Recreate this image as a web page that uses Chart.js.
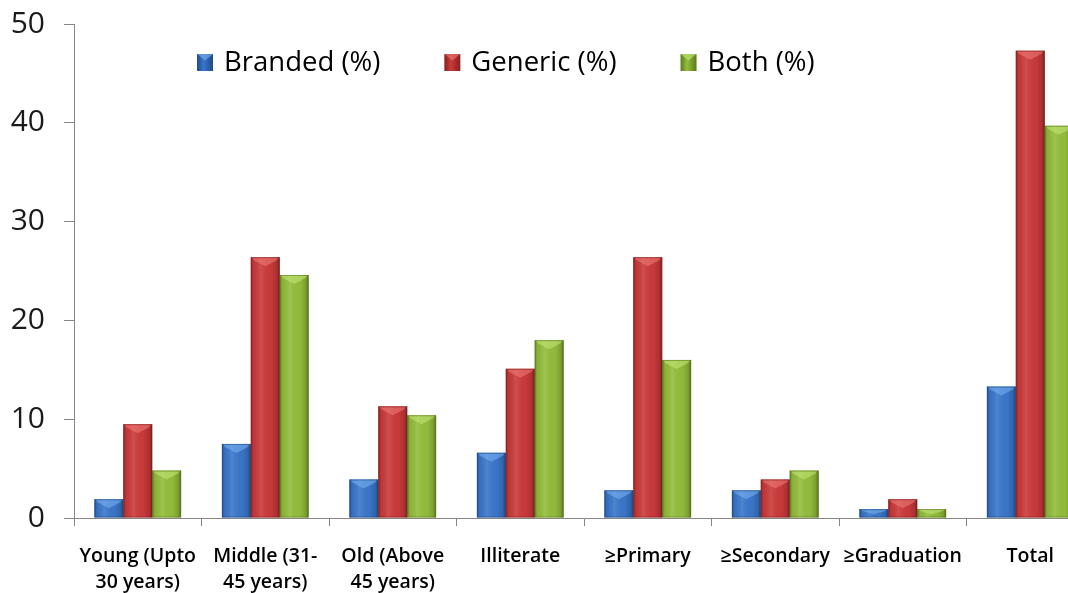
<!DOCTYPE html>
<html>
<head>
<meta charset="utf-8">
<script src="https://cdn.jsdelivr.net/npm/chart.js@4"></script>
<style>
  html, body { margin: 0; padding: 0; background: #fff; overflow: hidden; width: 1068px; height: 593px; }
  #wrap { width: 1100px; height: 593px; }
</style>
</head>
<body>
<div id="wrap"><canvas id="c" width="1100" height="593"></canvas></div>
<script>
// Categories (multi-line labels are arrays)
const categories = [
  ["Young (Upto", "30 years)"],
  ["Middle (31-", "45 years)"],
  ["Old (Above", "45 years)"],
  "Illiterate",
  "≥Primary",
  "≥Secondary",
  "≥Graduation",
  "Total"
];
const seriesNames = ["Branded (%)", "Generic (%)", "Both (%)"];
const branded = [1.9, 7.5, 3.9, 6.6, 2.8, 2.8, 0.9, 13.3];
const generic = [9.5, 26.4, 11.3, 15.1, 26.4, 3.9, 1.9, 47.3];
const both    = [4.8, 24.6, 10.4, 18.0, 16.0, 4.8, 0.9, 39.7];
const yTicks  = [0, 10, 20, 30, 40, 50];

const palette = [
  { base: '#3a77cb', light: '#7db2f0', dark: '#1d4a8a' },
  { base: '#cc3a3a', light: '#ee7d7a', dark: '#862020' },
  { base: '#94be3b', light: '#c6e77a', dark: '#5a7a1c' }
];
const AXIS = '#868686';
const FONT = '"Open Sans", "Liberation Sans", sans-serif';

// Shading for the bevelled look of each bar
const bevelBars = {
  id: 'bevelBars',
  afterDatasetsDraw(chart) {
    const ctx = chart.ctx;
    chart.data.datasets.forEach((ds, di) => {
      const meta = chart.getDatasetMeta(di);
      const pal = palette[di];
      meta.data.forEach(el => {
        const p = el.getProps(['x', 'y', 'base', 'width'], true);
        const left = p.x - p.width / 2, right = p.x + p.width / 2;
        const top = Math.min(p.y, p.base), bottom = Math.max(p.y, p.base);
        const h = bottom - top;
        if (h <= 0) return;
        ctx.save();
        const g = ctx.createLinearGradient(left, 0, right, 0);
        g.addColorStop(0, 'rgba(0,0,0,0.30)');
        g.addColorStop(0.1, 'rgba(0,0,0,0.06)');
        g.addColorStop(0.35, 'rgba(255,255,255,0.10)');
        g.addColorStop(0.7, 'rgba(0,0,0,0.02)');
        g.addColorStop(0.9, 'rgba(0,0,0,0.16)');
        g.addColorStop(1, 'rgba(0,0,0,0.42)');
        ctx.fillStyle = g;
        ctx.fillRect(left, top, p.width, h);
        // top chevron highlight
        const bh = Math.min(9, h * 0.6);
        ctx.beginPath();
        ctx.moveTo(left + 1, top);
        ctx.lineTo(right - 1, top);
        ctx.lineTo(right - 3, top + Math.min(3, bh * 0.4));
        ctx.lineTo(p.x, top + bh);
        ctx.lineTo(left + 3, top + Math.min(3, bh * 0.4));
        ctx.closePath();
        ctx.globalAlpha = 0.55;
        ctx.fillStyle = pal.light;
        ctx.fill();
        ctx.globalAlpha = 0.6;
        ctx.strokeStyle = pal.dark;
        ctx.lineWidth = 1;
        ctx.strokeRect(left + 0.5, top + 0.5, p.width - 1, h - 1);
        ctx.restore();
      });
    });
  }
};

// Legend drawn inside the plot area
const innerLegend = {
  id: 'innerLegend',
  afterDraw(chart) {
    const ctx = chart.ctx;
    ctx.save();
    ctx.font = '27.5px ' + FONT;
    ctx.textBaseline = 'middle';
    ctx.textAlign = 'left';
    let x = 197;
    const y = 62.5;
    chart.data.datasets.forEach((ds, di) => {
      const pal = palette[di];
      const g = ctx.createLinearGradient(x, 0, x + 16, 0);
      g.addColorStop(0, pal.dark);
      g.addColorStop(0.4, pal.base);
      g.addColorStop(1, pal.dark);
      ctx.fillStyle = g;
      ctx.fillRect(x, y - 8.5, 16, 17);
      ctx.beginPath();
      ctx.moveTo(x, y - 8.5); ctx.lineTo(x + 16, y - 8.5); ctx.lineTo(x + 8, y - 2); ctx.closePath();
      ctx.globalAlpha = 0.6; ctx.fillStyle = pal.light; ctx.fill(); ctx.globalAlpha = 1;
      ctx.fillStyle = '#000';
      ctx.fillText(ds.label, x + 27, y + 1);
      x += 27 + ctx.measureText(ds.label).width + 64;
    });
    ctx.restore();
  }
};

const values = [branded, generic, both];
new Chart(document.getElementById('c'), {
  type: 'bar',
  data: {
    labels: categories,
    datasets: seriesNames.map((name, i) => ({
      label: name,
      data: values[i],
      backgroundColor: palette[i].base,
      borderWidth: 0,
      categoryPercentage: 0.68,
      barPercentage: 1.0
    }))
  },
  options: {
    responsive: false,
    animation: false,
    layout: { padding: { top: 24, right: 6, left: 0, bottom: 0 } },
    plugins: { legend: { display: false }, tooltip: { enabled: false } },
    scales: {
      x: {
        grid: { offset: true, drawOnChartArea: false, drawTicks: true, tickLength: 8, color: AXIS },
        border: { color: AXIS },
        ticks: {
          color: '#000', autoSkip: false, maxRotation: 0, minRotation: 0,
          padding: 18, font: { family: FONT, size: 19.5, weight: '600', lineHeight: 1.3 }
        },
        afterFit(s) { s.height = 75; s.paddingLeft = 0; s.paddingRight = 0; }
      },
      y: {
        min: 0, max: 50,
        afterBuildTicks(s) { s.ticks = yTicks.map(v => ({ value: v })); },
        grid: { drawOnChartArea: false, drawTicks: true, tickLength: 10, color: AXIS },
        border: { color: AXIS },
        ticks: { color: '#1a1a1a', padding: 19, font: { family: FONT, size: 30 } },
        afterFit(s) { s.width = 74; s.paddingTop = 0; s.paddingBottom = 0; }
      }
    }
  },
  plugins: [bevelBars, innerLegend]
});
</script>
</body>
</html>
